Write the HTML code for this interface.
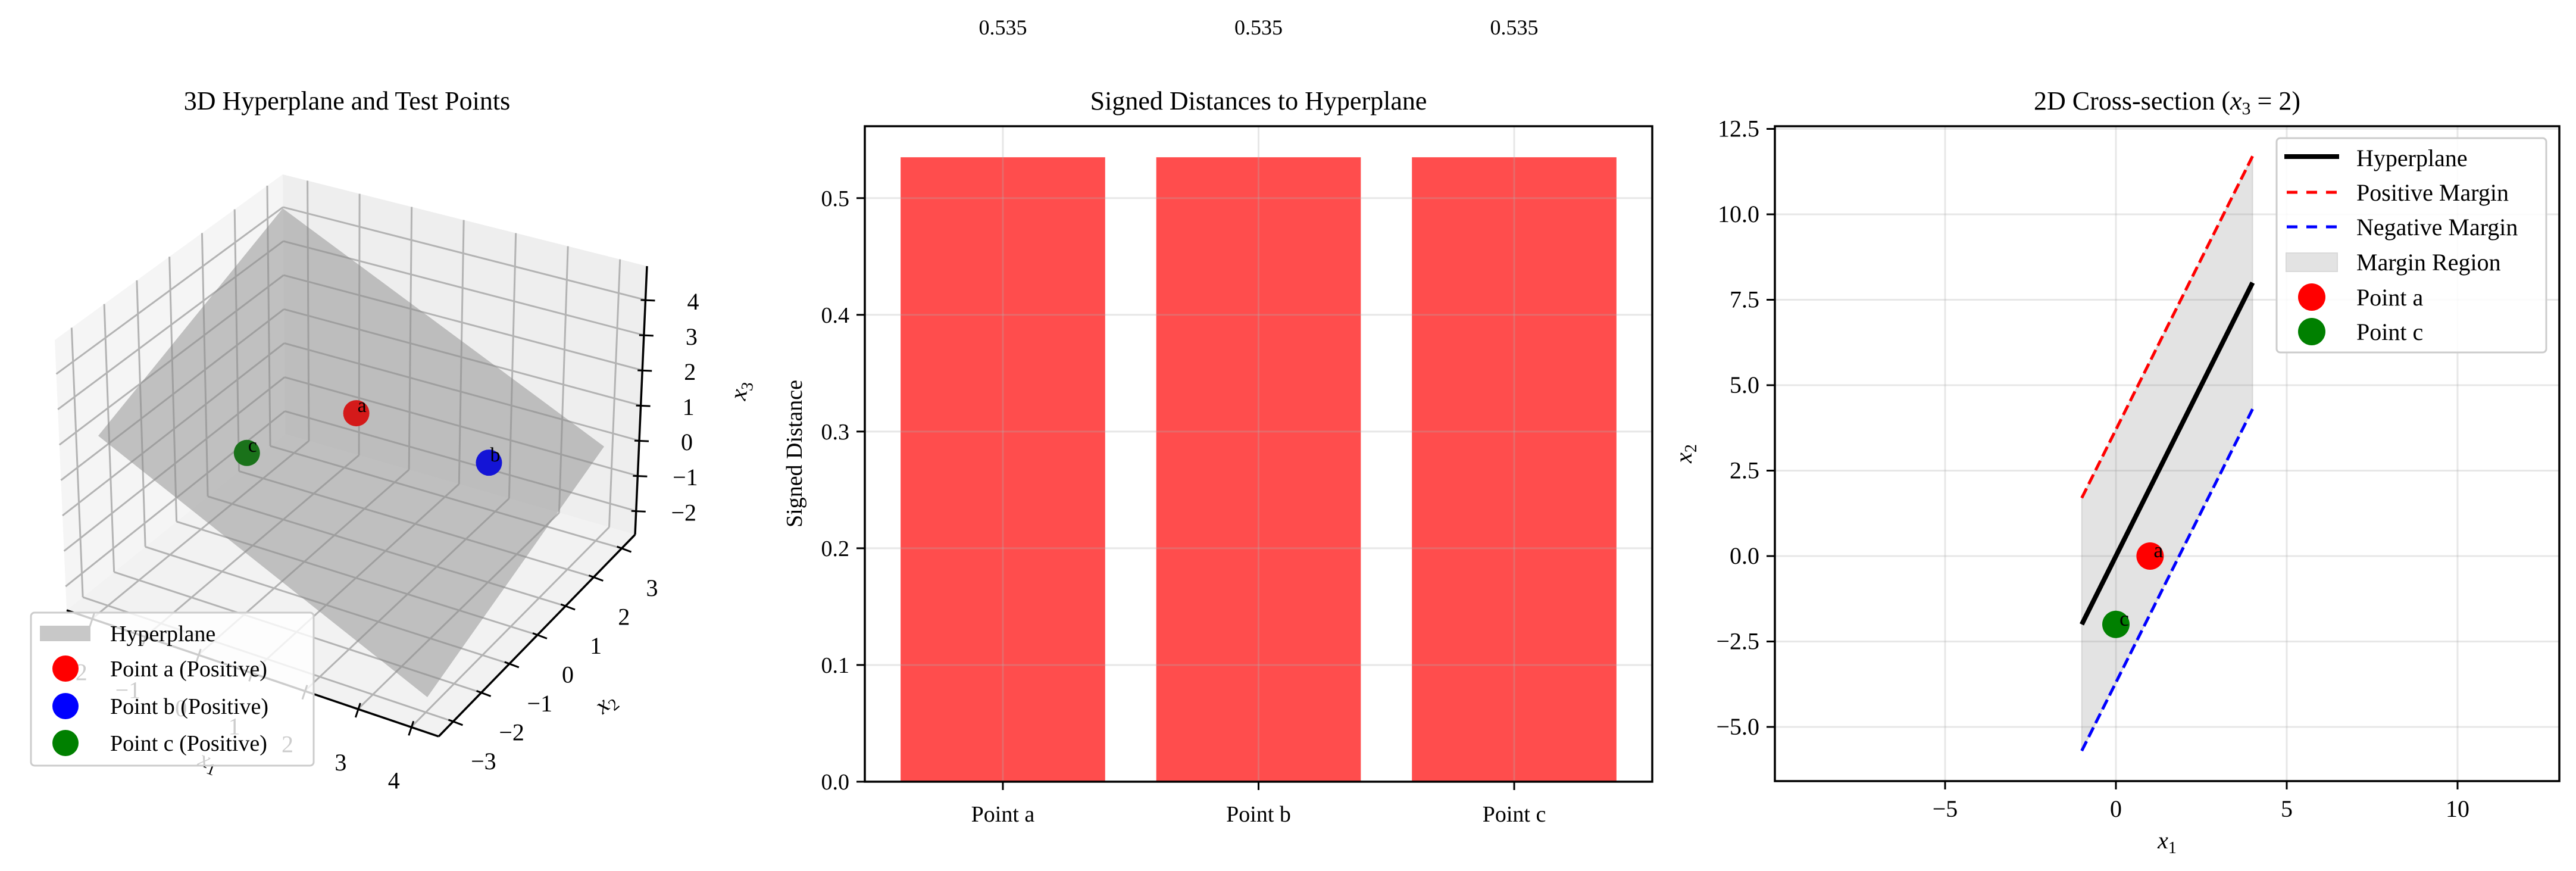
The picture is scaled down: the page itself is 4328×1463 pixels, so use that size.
<!DOCTYPE html>
<html><head><meta charset="utf-8">
<style>
html,body{margin:0;padding:0;background:#fff;}
svg{display:block;font-family:"Liberation Serif",serif;}
</style></head>
<body>
<svg id="fig" xmlns="http://www.w3.org/2000/svg" width="4328" height="1463" viewBox="0 0 4328 1463">
<rect width="4328" height="1463" fill="#fff"/>
<g id="p1"></g>
<g id="p2"></g>
<g id="p3"></g>
</svg>
<script>
// ---------- data: bar chart ----------
const barCategories = ["Point a", "Point b", "Point c"];
const barValues = [0.535, 0.535, 0.535];
const barYTicks = [0.0, 0.1, 0.2, 0.3, 0.4, 0.5];
// ---------- data: cross-section ----------
const lineX = [-1, 4];
const hyperY = [-2, 8];
const posMarginY = [1.7, 11.7];
const negMarginY = [-5.7, 4.3];
const crossPointNames = ["a", "c"];
const crossPointX1 = [1, 0];
const crossPointX2 = [0, -2];
const crossXTicks = [-5, 0, 5, 10];
const crossYTicks = [-5.0, -2.5, 0.0, 2.5, 5.0, 7.5, 10.0, 12.5];
// ---------- data: 3D ----------
const pt3Names = ["a", "b", "c"];
const pt3X1 = [1, 3, 0];
const pt3X2 = [0, 1, -2];
const pt3X3 = [2, 0.8, 2];
const x1Ticks = [-2, -1, 0, 1, 2, 3, 4];
const x2Ticks = [3, 2, 1, 0, -1, -2, -3];
const x3Ticks = [4, 3, 2, 1, 0, -1, -2];

const NS = "http://www.w3.org/2000/svg";
function mk(parent, tag, attrs, name, inter) {
  const e = document.createElementNS(NS, tag);
  for (const k in attrs) e.setAttribute(k, attrs[k]);
  parent.appendChild(e);
  return e;
}
function txt(parent, x, y, s, size, anchor, extra) {
  const t = mk(parent, "text", Object.assign({x: x, y: y, "font-size": size, "text-anchor": anchor || "middle", fill: "#000"}, extra || {}));
  t.textContent = s;
  return t;
}
function fmtMinus(v, d) { const s = v.toFixed(d); return s.replace("-", "\u2212"); }

// ================= PANEL 2: bars =================
(function(){
  const g = document.getElementById("p2");
  const L = 1453, R = 2776, T = 212, B = 1313;
  const xmin = -0.54, xmax = 2.54, ymax = 0.5616;
  const sx = v => L + (v - xmin) / (xmax - xmin) * (R - L);
  const sy = v => B - v / ymax * (B - T);
  // bars
  barValues.forEach((v, i) => {
    const r = mk(g, "rect", {x: sx(i - 0.4), y: sy(v), width: sx(i + 0.4) - sx(i - 0.4), height: sy(0) - sy(v), fill: "#ff4d4d"});
    
    
    const t = txt(g, sx(i), 58, v.toFixed(3), 36);
    
    
  });
  // grid
  barYTicks.forEach(v => {
    const l = mk(g, "line", {x1: L, x2: R, y1: sy(v), y2: sy(v), stroke: "#b0b0b0", "stroke-opacity": 0.3, "stroke-width": 3});
    
    
    const tk = mk(g, "line", {x1: L - 14, x2: L, y1: sy(v), y2: sy(v), stroke: "#000", "stroke-width": 3});
    
    
    const t = txt(g, L - 26, sy(v) + 13, v.toFixed(1), 38, "end");
    
    
  });
  barCategories.forEach((c, i) => {
    const l = mk(g, "line", {x1: sx(i), x2: sx(i), y1: T, y2: B, stroke: "#b0b0b0", "stroke-opacity": 0.3, "stroke-width": 3});
    
    
    const tk = mk(g, "line", {x1: sx(i), x2: sx(i), y1: B, y2: B + 14, stroke: "#000", "stroke-width": 3});
    
    
    const t = txt(g, sx(i), 1380, c, 38);
    
    
  });
  const f = mk(g, "rect", {x: L, y: T, width: R - L, height: B - T, fill: "none", stroke: "#000", "stroke-width": 3.5});
  
  
  const ti = txt(g, (L + R) / 2, 184, "Signed Distances to Hyperplane", 44);
  
  
  const yl = txt(g, 0, 0, "Signed Distance", 38, "middle", {transform: "translate(1347,762) rotate(-90)"});
  
  
})();

// ================= PANEL 3: cross-section =================
(function(){
  const g = document.getElementById("p3");
  const L = 2982, R = 4300, T = 212, B = 1312;
  const X0 = 3555, Y0 = 934, U = 57.4;
  const sx = v => X0 + v * U;
  const sy = v => Y0 - v * U;
  crossYTicks.forEach(v => {
    const l = mk(g, "line", {x1: L, x2: R, y1: sy(v), y2: sy(v), stroke: "#b0b0b0", "stroke-opacity": 0.3, "stroke-width": 3});
    
    
    const tk = mk(g, "line", {x1: L - 14, x2: L, y1: sy(v), y2: sy(v), stroke: "#000", "stroke-width": 3});
    
    
    const t = txt(g, L - 26, sy(v) + 13, fmtMinus(v, 1), 40, "end");
    
    
  });
  crossXTicks.forEach(v => {
    const l = mk(g, "line", {x1: sx(v), x2: sx(v), y1: T, y2: B, stroke: "#b0b0b0", "stroke-opacity": 0.3, "stroke-width": 3});
    
    
    const tk = mk(g, "line", {x1: sx(v), x2: sx(v), y1: B, y2: B + 14, stroke: "#000", "stroke-width": 3});
    
    
    const t = txt(g, sx(v), 1372, fmtMinus(v, 0), 40);
    
    
  });
  // margin region
  const poly = [[lineX[0], posMarginY[0]], [lineX[1], posMarginY[1]], [lineX[1], negMarginY[1]], [lineX[0], negMarginY[0]]]
    .map(p => sx(p[0]) + "," + sy(p[1])).join(" ");
  const mr = mk(g, "polygon", {points: poly, fill: "#808080", "fill-opacity": 0.22, stroke: "#808080", "stroke-opacity": 0.22, "stroke-width": 2});
  
  
  const pm = mk(g, "line", {x1: sx(lineX[0]), y1: sy(posMarginY[0]), x2: sx(lineX[1]), y2: sy(posMarginY[1]), stroke: "#ff0000", "stroke-width": 5, "stroke-dasharray": "18,8"});
  
  
  const nm = mk(g, "line", {x1: sx(lineX[0]), y1: sy(negMarginY[0]), x2: sx(lineX[1]), y2: sy(negMarginY[1]), stroke: "#0000ff", "stroke-width": 5, "stroke-dasharray": "18,8"});
  
  
  const hl = mk(g, "line", {x1: sx(lineX[0]), y1: sy(hyperY[0]), x2: sx(lineX[1]), y2: sy(hyperY[1]), stroke: "#000", "stroke-width": 8});
  
  
  const cols = {a: "#ff0000", c: "#008000"};
  crossPointNames.forEach((n, i) => {
    const c = mk(g, "circle", {cx: sx(crossPointX1[i]), cy: sy(crossPointX2[i]), r: 23, fill: cols[n]});
    
    
    const t = txt(g, sx(crossPointX1[i]) + 6, sy(crossPointX2[i]) + 2, n, 36, "start");
    
    
  });
  const f = mk(g, "rect", {x: L, y: T, width: R - L, height: B - T, fill: "none", stroke: "#000", "stroke-width": 3.5});
  
  
  // legend
  const lg = mk(g, "g", {});
  
  
  mk(lg, "rect", {x: 3825, y: 232, width: 453, height: 360, rx: 6, fill: "#fff", "fill-opacity": 0.85, stroke: "#cccccc", "stroke-width": 3});
  const rows = [265, 323, 381, 440, 499, 557];
  const labels = ["Hyperplane", "Positive Margin", "Negative Margin", "Margin Region", "Point a", "Point c"];
  mk(lg, "line", {x1: 3838, x2: 3930, y1: rows[0] - 2, y2: rows[0] - 2, stroke: "#000", "stroke-width": 8});
  mk(lg, "line", {x1: 3842, x2: 3926, y1: rows[1], y2: rows[1], stroke: "#ff0000", "stroke-width": 5, "stroke-dasharray": "18,15"});
  mk(lg, "line", {x1: 3842, x2: 3926, y1: rows[2], y2: rows[2], stroke: "#0000ff", "stroke-width": 5, "stroke-dasharray": "18,15"});
  mk(lg, "rect", {x: 3841, y: rows[3] - 15, width: 86, height: 31, fill: "#e3e3e3", stroke: "#d9d9d9", "stroke-width": 2});
  mk(lg, "circle", {cx: 3884, cy: rows[4], r: 23, fill: "#ff0000"});
  mk(lg, "circle", {cx: 3884, cy: rows[5], r: 23, fill: "#008000"});
  labels.forEach((s, i) => {
    const t = txt(lg, 3959, rows[i] + 14, s, 40, "start");
    
    
  });
  const ti = txt(g, (L + R) / 2, 184, "", 44);
  ti.innerHTML = '2D Cross-section (<tspan font-style="italic">x</tspan><tspan font-size="30" dy="8">3</tspan><tspan dy="-8"> = 2)</tspan>';
  
  
  const xl = txt(g, (L + R) / 2, 1425, "", 40);
  xl.innerHTML = '<tspan font-style="italic">x</tspan><tspan font-size="28" dy="8">1</tspan>';
  
  
  const yl = txt(g, 0, 0, "", 40, "middle", {transform: "translate(2842,762) rotate(-90)"});
  yl.innerHTML = '<tspan font-style="italic">x</tspan><tspan font-size="28" dy="8">2</tspan>';
  
  
})();

// ================= PANEL 1: 3D =================
(function(){
  const g = document.getElementById("p1");
  const A = [475, 293], B = [479, 729], C = [112, 1025], D = [92, 571], E = [1087, 447], F = [1067, 898], G = [737, 1237];
  const lerp = (p, q, t) => [p[0] + (q[0] - p[0]) * t, p[1] + (q[1] - p[1]) * t];
  const pts = a => a.map(p => p[0] + "," + p[1]).join(" ");
  const pl = mk(g, "polygon", {points: pts([A, B, C, D]), fill: "#f5f5f5"});
  
  
  const pr = mk(g, "polygon", {points: pts([A, E, F, B]), fill: "#eeeeee"});
  
  
  const pf = mk(g, "polygon", {points: pts([B, C, G, F]), fill: "#f2f2f2"});
  
  
  const gs = {stroke: "#b3b3b3", "stroke-width": 3};
  const tfrac = k => 0.068 + k * 0.143;
  const sfrac = k => 0.126 + k * 0.131;
  const grid = mk(g, "g", gs);
  
  
  for (let k = 0; k < 7; k++) {
    const t = tfrac(k), s = sfrac(k);
    let p, q;
    p = lerp(A, D, t); q = lerp(B, C, t); mk(grid, "line", {x1: p[0], y1: p[1], x2: q[0], y2: q[1]});
    p = lerp(A, B, s); q = lerp(D, C, s); mk(grid, "line", {x1: p[0], y1: p[1], x2: q[0], y2: q[1]});
    p = lerp(A, E, t); q = lerp(B, F, t); mk(grid, "line", {x1: p[0], y1: p[1], x2: q[0], y2: q[1]});
    p = lerp(A, B, s); q = lerp(E, F, s); mk(grid, "line", {x1: p[0], y1: p[1], x2: q[0], y2: q[1]});
    p = lerp(B, C, t); q = lerp(F, G, t); mk(grid, "line", {x1: p[0], y1: p[1], x2: q[0], y2: q[1]});
    p = lerp(B, F, t); q = lerp(C, G, t); mk(grid, "line", {x1: p[0], y1: p[1], x2: q[0], y2: q[1]});
  }
  // hyperplane surface
  const hp = mk(g, "polygon", {points: pts([[475, 350], [1015, 750], [718, 1171], [165, 732]]), fill: "#8c8c8c", "fill-opacity": 0.5});
  
  
  // projection for points
  const O = [504, 782], U1 = [89.4, 30.3], U2 = [47.2, -48.5], U3 = [2.6, -59.1];
  const proj = (a, b, c) => [O[0] + a * U1[0] + b * U2[0] + c * U3[0], O[1] + a * U1[1] + b * U2[1] + c * U3[1]];
  const cols = {a: "#d41a1a", b: "#1414d6", c: "#1a721a"};
  pt3Names.forEach((n, i) => {
    const p = proj(pt3X1[i], pt3X2[i], pt3X3[i]);
    const c = mk(g, "circle", {cx: p[0], cy: p[1], r: 22, fill: cols[n]});
    
    
    const t = txt(g, p[0] + 2, p[1] - 2, n, 34, "start");
    
    
  });
  // axes
  const ax = {stroke: "#000", "stroke-width": 3.5};
  mk(g, "line", Object.assign({x1: E[0], y1: E[1], x2: F[0], y2: F[1]}, ax));
  mk(g, "line", Object.assign({x1: F[0], y1: F[1], x2: G[0], y2: G[1]}, ax));
  mk(g, "line", Object.assign({x1: G[0], y1: G[1], x2: C[0], y2: C[1]}, ax));
  x3Ticks.forEach((v, k) => {
    const p = lerp(E, F, sfrac(k));
    mk(g, "line", {x1: p[0] - 8, y1: p[1], x2: p[0] + 16, y2: p[1] + 1, stroke: "#000", "stroke-width": 3});
    const t = txt(g, p[0] + 80, p[1] + 16, fmtMinus(v, 0), 40);
    
    
  });
  x2Ticks.forEach((v, k) => {
    const p = lerp(F, G, tfrac(k));
    mk(g, "line", {x1: p[0] - 8, y1: p[1] - 3, x2: p[0] + 16, y2: p[1] + 6, stroke: "#000", "stroke-width": 3});
    const t = txt(g, p[0] + 51, p[1] + 80, fmtMinus(v, 0), 40);
    
    
  });
  x1Ticks.forEach((v, k) => {
    const p = lerp(C, G, tfrac(k));
    mk(g, "line", {x1: p[0] + 4, y1: p[1] - 10, x2: p[0] - 4, y2: p[1] + 14, stroke: "#000", "stroke-width": 3});
    const t = txt(g, p[0] - 29, p[1] + 103, fmtMinus(v, 0), 40);
    
    
  });
  const zl = txt(g, 0, 0, "", 40, "middle", {transform: "translate(1255,658) rotate(-80)"});
  zl.innerHTML = '<tspan font-style="italic">x</tspan><tspan font-size="28" dy="8">3</tspan>';
  
  
  const yl = txt(g, 0, 0, "", 40, "middle", {transform: "translate(1025,1190) rotate(-40)"});
  yl.innerHTML = '<tspan font-style="italic">x</tspan><tspan font-size="28" dy="8">2</tspan>';
  
  
  const xl = txt(g, 0, 0, "", 40, "middle", {transform: "translate(346,1290) rotate(20)"});
  xl.innerHTML = '<tspan font-style="italic">x</tspan><tspan font-size="28" dy="8">1</tspan>';
  
  
  // legend
  const lg = mk(g, "g", {});
  
  
  mk(lg, "rect", {x: 52, y: 1029, width: 475, height: 257, rx: 6, fill: "#fff", "fill-opacity": 0.8, stroke: "#cccccc", "stroke-width": 3});
  const rows = [1064, 1123, 1186, 1248];
  mk(lg, "rect", {x: 67, y: rows[0] - 13, width: 85, height: 26, fill: "#c8c8c8"});
  mk(lg, "circle", {cx: 110, cy: rows[1], r: 22, fill: "#ff0000"});
  mk(lg, "circle", {cx: 110, cy: rows[2], r: 22, fill: "#0000ff"});
  mk(lg, "circle", {cx: 110, cy: rows[3], r: 22, fill: "#008000"});
  ["Hyperplane", "Point a (Positive)", "Point b (Positive)", "Point c (Positive)"].forEach((s, i) => {
    const t = txt(lg, 185, rows[i] + 13, s, 38, "start");
    
    
  });
  const ti = txt(g, 583, 184, "3D Hyperplane and Test Points", 44);
  
  
})();
</script>
</body></html>
